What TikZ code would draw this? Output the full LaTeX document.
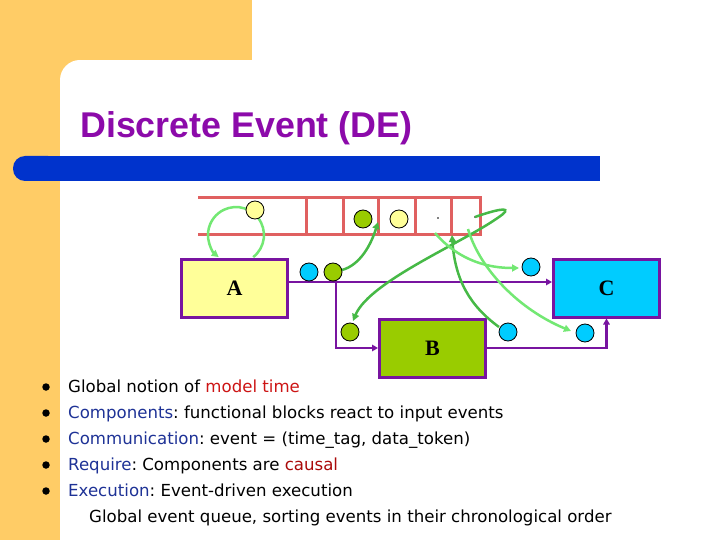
\documentclass[tikz,border=0pt]{standalone}
\usepackage{fontspec}
\setmainfont{Liberation Sans}
\newfontfamily\serifb{Liberation Serif}
\newfontfamily\bodyf{DejaVu Sans}
\usetikzlibrary{arrows.meta}
\definecolor{orng}{RGB}{255,204,102}
\definecolor{barblue}{RGB}{0,51,204}
\definecolor{ttl}{RGB}{140,10,170}
\definecolor{qred}{RGB}{224,96,96}
\definecolor{purp}{RGB}{120,20,160}
\definecolor{yel}{RGB}{255,255,153}
\definecolor{cyn}{RGB}{0,204,255}
\definecolor{grn}{RGB}{153,204,0}
\definecolor{mgr}{RGB}{70,185,70}
\definecolor{lgr}{RGB}{115,232,115}
\definecolor{tred}{RGB}{205,20,20}
\definecolor{tblue}{RGB}{30,50,150}
\definecolor{tdred}{RGB}{170,10,10}
\frenchspacing
\begin{document}
\begin{tikzpicture}[x=1pt,y=-1pt,
  box/.style={draw=purp, line width=3pt, minimum width=106pt, minimum height=58pt, inner sep=0pt, font=\serifb\bfseries\fontsize{22}{22}\selectfont},
  tok/.style={circle, draw=black, line width=0.8pt, minimum size=18pt, inner sep=0pt},
  pconn/.style={draw=purp, line width=2.8pt, -{Triangle[length=6pt,width=6.5pt]}},
  qline/.style={draw=qred, line width=3pt},
  mcurve/.style={draw=mgr, line width=2.5pt, -{Triangle[length=7pt,width=7pt]}},
  lcurve/.style={draw=lgr, line width=2.5pt, -{Triangle[length=7pt,width=7pt]}},
  bul/.style={circle, fill=black, inner sep=0pt, minimum size=7.5pt},
  btxt/.style={anchor=base west, inner sep=0pt, font=\bodyf\fontsize{16.6}{20}\selectfont}
]
\useasboundingbox (0,0) rectangle (720,540);
% background
\fill[white] (0,0) rectangle (720,540);
\fill[orng] (0,0) rectangle (252,60);
\fill[orng] (0,0) rectangle (60,540);
\fill[orng] (60,60) rectangle (80,80);
\fill[white] (80,80) circle[radius=20];
% blue bar
\fill[barblue, rounded corners=12pt] (13,156) rectangle (60,181);
\fill[barblue] (40,156) rectangle (600,181);
% title
\node[anchor=base west, inner sep=0pt, text=ttl, font=\bfseries\fontsize{35.8}{40}\selectfont] (title) at (80,138) {Discrete Event (DE)};
% queue
\draw[qline] (198,198) -- (480,198) -- (480,234) -- (198,234);
\foreach \xx in {306,343,378,415,451} { \draw[qline] (\xx,198) -- (\xx,234); }
\coordinate (d1) at (438,218);
\coordinate (d2) at (475,217);
\fill (d1) circle[radius=0.8];
\fill (d2) circle[radius=0.8];
% boxes
\node[box, fill=yel] (A) at (234.5,288.5) {A};
\node[box, fill=cyn] (C) at (606.5,288) {C};
\node[box, fill=grn] (B) at (432.5,348) {B};
% purple connectors
\coordinate (jn) at (336,282);
\draw[pconn] (A.east |- jn) -- (C.west |- jn);
\draw[pconn] (jn) |- (B.west);
\draw[pconn] (B.east) -| (C.south);
% green curves
\coordinate (la) at (253.2,257.1);
\draw[lgr, line width=2.5pt, -{Triangle[length=7pt,width=7pt]}] (la) arc[start angle=52, end angle=-232, radius=28];
\coordinate (q2in) at (378,222);
\coordinate (qb) at (452,235);
\coordinate (s5) at (435,233);
\coordinate (s6) at (468,229);
\coordinate (tip) at (503,214);
\draw[mcurve] (342,270) .. controls (360,265) and (371,245) .. (q2in);
\draw[mcurve] (d2) .. controls (495,210) and (512,206) .. (tip) .. controls (470,240) and (370,280) .. (353,321);
\draw[mcurve] (499,327) .. controls (470,306) and (455,280) .. (qb);
\draw[lcurve] (s5) .. controls (460,262) and (490,268) .. (519,268);
\draw[lcurve] (s6) .. controls (480,270) and (520,310) .. (571,331);
% tokens
\node[tok, fill=yel] (q1) at (255,210) {};
\node[tok, fill=grn] (q2) at (363,219) {};
\node[tok, fill=yel] (q3) at (399,219) {};
\node[tok, fill=cyn] (ca) at (309,272) {};
\node[tok, fill=grn] (ga) at (333,272) {};
\node[tok, fill=grn] (gb) at (350,332) {};
\node[tok, fill=cyn] (cb) at (508,332) {};
\node[tok, fill=cyn] (cc1) at (531,267) {};
\node[tok, fill=cyn] (cc2) at (585,333) {};
% bullets
\node[bul] (b1) at (46,387) {};
\node[bul] (b2) at (46,413) {};
\node[bul] (b3) at (46,439) {};
\node[bul] (b4) at (46,465) {};
\node[bul] (b5) at (46,491) {};
\node[btxt] (t1) at (68,392) {Global notion of \textcolor{tred}{model time}};
\node[btxt] (t2) at (68,418) {\textcolor{tblue}{Components}: functional blocks react to input events};
\node[btxt] (t3) at (68,444) {\textcolor{tblue}{Communication}: event = (time\_tag, data\_token)};
\node[btxt] (t4) at (68,470) {\textcolor{tblue}{Require}: Components are \textcolor{tdred}{causal}};
\node[btxt] (t5) at (68,496) {\textcolor{tblue}{Execution}: Event-driven execution};
\node[btxt] (t6) at (89,522) {Global event queue, sorting events in their chronological order};
\end{tikzpicture}
\end{document}
